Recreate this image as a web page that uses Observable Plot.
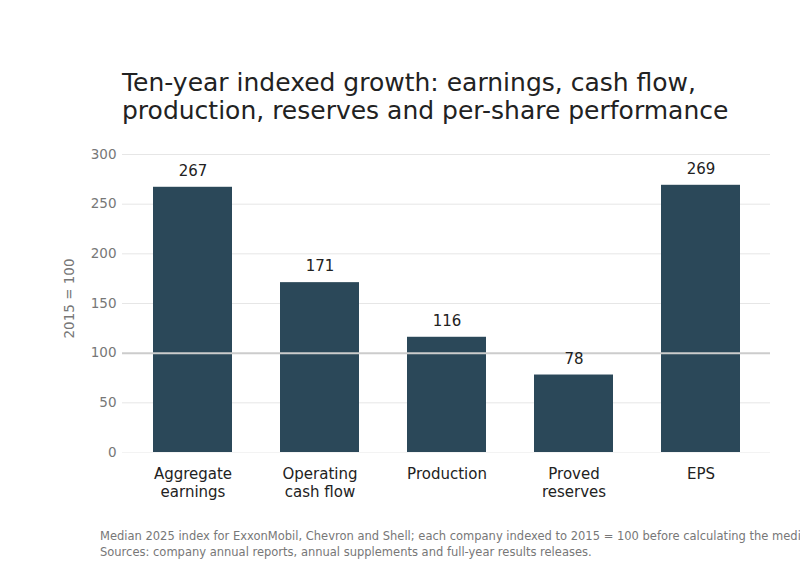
<!DOCTYPE html>
<html>
<head>
<meta charset="utf-8">
<script src="https://cdn.jsdelivr.net/npm/d3@7"></script>
<script src="https://cdn.jsdelivr.net/npm/@observablehq/plot@0.6"></script>
<style>
  html, body { margin: 0; padding: 0; background: #fff; overflow: hidden; width: 800px; height: 570px; }
  body { position: relative; font-family: "DejaVu Sans", sans-serif; }
  #title { position: absolute; left: 122px; top: 69px; font-size: 25px; line-height: 28px; color: #222; white-space: nowrap; }
  #chart { position: absolute; left: 0; top: 130px; }
  #note { position: absolute; left: 100px; top: 528px; font-size: 11.5px; line-height: 16px; color: #777; white-space: nowrap; }
</style>
</head>
<body>
<div id="title">Ten-year indexed growth: earnings, cash flow,<br>production, reserves and per-share performance</div>
<div id="chart"></div>
<div id="note">Median 2025 index for ExxonMobil, Chevron and Shell; each company indexed to 2015 = 100 before calculating the median.<br>Sources: company annual reports, annual supplements and full-year results releases.</div>
<script>
const categories = ["Aggregate earnings", "Operating cash flow", "Production", "Proved reserves", "EPS"];
const tickLabels = ["Aggregate\nearnings", "Operating\ncash flow", "Production", "Proved\nreserves", "EPS"];
const values = [267, 171, 116, 78, 269];
const yTicks = [0, 50, 100, 150, 200, 250, 300];
const baseline = [100];

const data = categories.map((c, i) => ({category: c, value: values[i]}));
const labelMap = new Map(categories.map((c, i) => [c, tickLabels[i]]));

const chart = Plot.plot({
  width: 800,
  height: 390,
  marginLeft: 122,
  marginRight: 30,
  marginTop: 24,
  marginBottom: 68,
  style: {fontFamily: "DejaVu Sans, sans-serif", background: "#fff"},
  x: {domain: categories, paddingInner: 0.38, paddingOuter: 0.23, label: null},
  y: {domain: [0, 300], label: null},
  marks: [
    Plot.ruleY(yTicks.filter(d => d !== 0 && d !== 100), {stroke: "#e6e6e6", strokeWidth: 1}),
    Plot.ruleY([0], {stroke: "#f3f3f3", strokeWidth: 1}),
    Plot.barY(data, {x: "category", y: "value", fill: "#2b4859"}),
    Plot.ruleY(baseline, {stroke: "#cccccc", strokeWidth: 2}),
    Plot.text(data, {x: "category", y: "value", text: d => String(d.value), dy: -16, fontSize: 15, fill: "#222"}),
    Plot.axisX({tickSize: 0, tickPadding: 14, fontSize: 15, tickFormat: d => labelMap.get(d), lineHeight: 1.2, color: "#222", label: null}),
    Plot.axisY({ticks: yTicks, tickSize: 0, tickPadding: 6, fontSize: 13.5, color: "#777", label: null}),
    Plot.text(["2015 = 100"], {frameAnchor: "left", textAnchor: "middle", dx: -53, dy: -5, rotate: -90, fontSize: 13.5, fill: "#777"})
  ]
});
document.getElementById("chart").appendChild(chart);
</script>
</body>
</html>
